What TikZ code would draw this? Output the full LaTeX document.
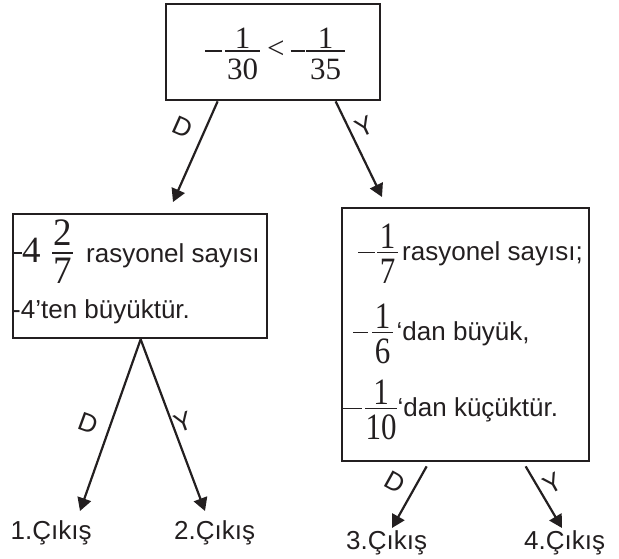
\documentclass[tikz,border=0pt]{standalone}
\usepackage{graphicx}
\usepackage{fontspec}
\setmainfont{Liberation Sans}
\newfontfamily\nf{Liberation Serif}
\usetikzlibrary{arrows.meta,calc}
\definecolor{ink}{HTML}{231F20}
\def\fraxis{7.2pt}
\def\dys{1}
% fraction: numerator, denominator, extra bar width, gap above bar, gap below bar
\newcommand\frc[5]{%
 \begingroup
 \setbox0\hbox{\scalebox{1}[\dys]{#1}}\setbox2\hbox{\scalebox{1}[\dys]{#2}}%
 \dimen0=\wd0 \ifdim\wd2>\dimen0 \dimen0=\wd2 \fi
 \advance\dimen0 by #3\relax
 \raise\fraxis\vtop{\offinterlineskip\hbox{\vbox{\offinterlineskip\hbox to\dimen0{\hss\box0\hss}\kern#4\hrule height1.3pt width\dimen0}}\kern#5\hbox to\dimen0{\hss\box2\hss}}%
 \endgroup}
% minus sign drawn as a bar level with the fraction bars
\newcommand\mn[1]{\rule[\fraxis]{#1}{1.3pt}}
\newcommand\txt{\fontsize{26}{30}\selectfont}
\newcommand\dg{\nf\fontsize{31}{36}\selectfont}
\newcommand\dgL{\nf\fontsize{37}{44}\selectfont}
\begin{document}
\begin{tikzpicture}[x=1pt,y=-1pt,
  tx/.style={inner sep=0pt,anchor=base west,font=\txt,text=ink},
  lab/.style={inner sep=0pt,font=\fontsize{26}{30}\selectfont,text=ink},
  box/.style={draw=ink,line width=2.7pt,inner sep=0pt},
  arr/.style={draw=ink,line width=2.2pt,-{Triangle[length=13pt,width=14pt]}}]
\useasboundingbox (0,0) rectangle (619,559);
% texts
\node[tx] (e0) at (205,59) {\dg\color{ink}\mn{17pt}\kern3pt\frc{1}{30}{4pt}{1.5pt}{7.5pt}\kern7pt<\kern6pt\mn{14pt}\kern1.5pt\frc{1}{35}{8pt}{1.5pt}{7.5pt}};
\node[tx] (l1) at (12,262) {{\dgL\color{ink}\def\fraxis{8.3pt}\def\dys{1.05}\mn{10pt}4\kern11.5pt\frc{2}{7}{2.5pt}{7pt}{4pt}}\kern13pt rasyonel sayısı};
\node[tx] (l2) at (12,318) {-4’ten büyüktür.};
\node[tx] (r1) at (358,260) {{\dg\color{ink}\def\dys{1.2}\mn{17pt}\kern2pt\frc{1}{7}{5.5pt}{3pt}{6pt}}\kern4pt rasyonel sayısı;};
\node[tx] (r2) at (353,340) {{\dg\color{ink}\def\dys{1.2}\mn{15pt}\kern4pt\frc{1}{6}{5.5pt}{3pt}{6pt}}\kern3.5pt‘dan büyük,};
\node[tx] (r3) at (343,416) {{\dg\color{ink}\def\dys{1.2}\mn{19pt}\kern3pt\frc{1}{10}{1pt}{3pt}{6pt}}\kern0.5pt‘dan küçüktür.};
\node[tx] (x1) at (10.5,539) {1.Çıkış};
\node[tx] (x2) at (174,539) {2.Çıkış};
\node[tx] (x3) at (346,549) {3.Çıkış};
\node[tx] (x4) at (524,549) {4.Çıkış};
% boxes
\node[box,minimum width=214pt,minimum height=96pt] (tb) at (273,52) {};
\node[box,minimum width=254pt,minimum height=124pt] (lb) at (140,276) {};
\node[box,minimum width=247pt,minimum height=253pt] (rb) at (465.5,334.5) {};
% arrow tips
\coordinate (t1) at (173,202);
\coordinate (t2) at (382,197);
\coordinate (t3) at (80,511);
\coordinate (t4) at (205,511);
\coordinate (t5) at (392,528);
\coordinate (t6) at (562,528);
\draw[arr] ($(tb.south west)+(53,0)$) -- (t1);
\draw[arr] ($(tb.south west)+(171,0)$) -- (t2);
\draw[arr] ($(lb.south west)+(129,0)$) -- (t3);
\draw[arr] ($(lb.south west)+(129,0)$) -- (t4);
\draw[arr] ($(rb.south west)+(86,4)$) -- (t5);
\draw[arr] ($(rb.south west)+(185,4)$) -- (t6);
% branch labels
\node[lab,rotate=-24] (d1) at (183,127) {D};
\node[lab,rotate=25] (y1) at (365,127) {Y};
\node[lab,rotate=-20] (d2) at (88,423) {D};
\node[lab,rotate=20] (y2) at (183,422) {Y};
\node[lab,rotate=-29] (d3) at (395,482) {D};
\node[lab,rotate=29] (y3) at (553,483) {Y};
\end{tikzpicture}
\end{document}
